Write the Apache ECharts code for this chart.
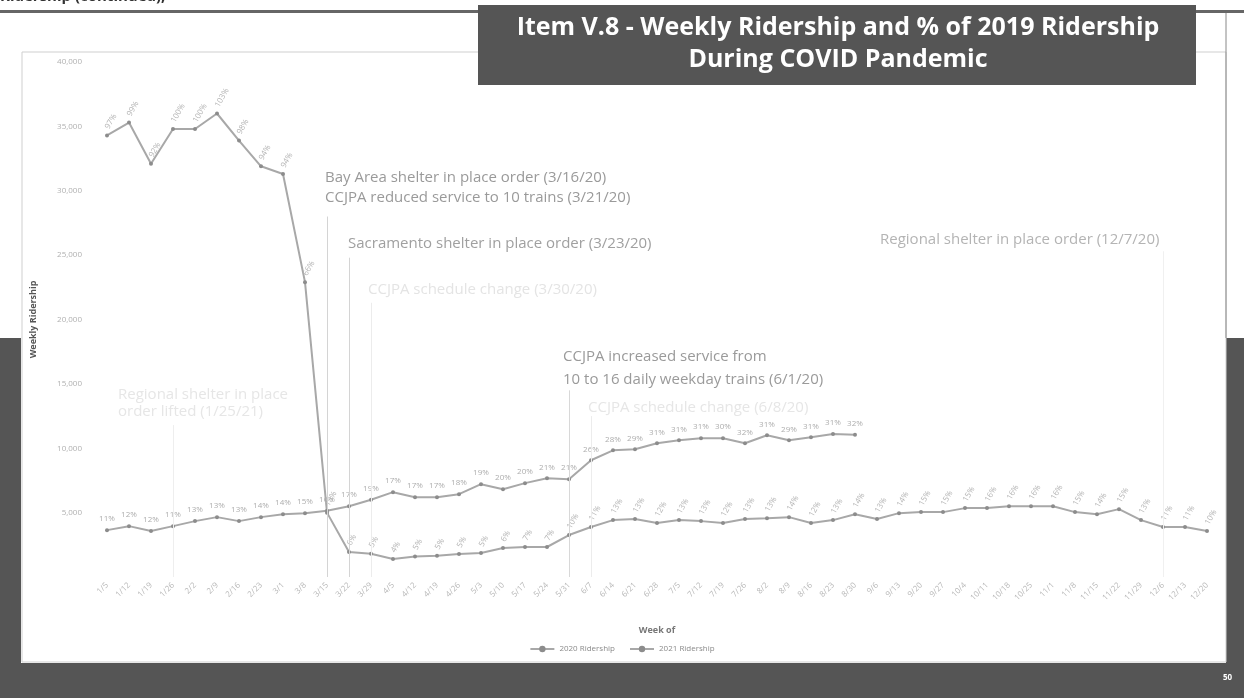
<!DOCTYPE html>
<html>
<head>
<meta charset="utf-8">
<script src="https://cdn.jsdelivr.net/npm/echarts@6/dist/echarts.min.js"></script>
<style>
html,body{margin:0;padding:0;background:#fff;}
#c{width:1244px;height:698px;}
</style>
</head>
<body>
<div id="c"></div>
<script>
// ---- data ----
const weeks = ['1/5','1/12','1/19','1/26','2/2','2/9','2/16','2/23','3/1','3/8','3/15','3/22','3/29','4/5','4/12','4/19','4/26','5/3','5/10','5/17','5/24','5/31','6/7','6/14','6/21','6/28','7/5','7/12','7/19','7/26','8/2','8/9','8/16','8/23','8/30','9/6','9/13','9/20','9/27','10/4','10/11','10/18','10/25','11/1','11/8','11/15','11/22','11/29','12/6','12/13','12/20'];
const ridership2020 = [34300,35300,32100,34800,34800,36000,33900,31900,31300,22900,5000,1950,1800,1400,1600,1650,1780,1860,2250,2330,2330,3260,3880,4420,4500,4190,4420,4340,4190,4500,4570,4650,4190,4420,4880,4500,4960,5040,5040,5350,5350,5500,5500,5500,5040,4880,5270,4420,3880,3880,3570];
const pct2020 = ['97%','99%','92%','100%','100%','103%','98%','94%','94%','66%','15%','6%','5%','4%','5%','5%','5%','5%','6%','7%','7%','10%','11%','13%','13%','12%','13%','13%','12%','13%','13%','14%','12%','13%','14%','13%','14%','15%','15%','15%','16%','16%','16%','16%','15%','14%','15%','13%','11%','11%','10%'];
const ridership2021 = [3640,3950,3570,3950,4340,4650,4340,4650,4880,4960,5150,5500,6000,6590,6200,6200,6430,7210,6820,7290,7670,7600,9070,9840,9920,10390,10620,10780,10780,10390,11010,10620,10850,11100,11050];
const pct2021 = ['11%','12%','12%','11%','13%','13%','13%','14%','14%','15%','16%','17%','19%','17%','17%','17%','18%','19%','20%','20%','21%','21%','26%','28%','29%','31%','31%','31%','30%','32%','31%','29%','31%','31%','32%'];
const yTicks = {min:0, max:40000, interval:5000};
// event lines: week and the value where each line starts (below its note)
const eventWeeks = ['3/15','3/22','3/29','5/31','6/7','12/6','1/26'];
const eventTops  = [28000,24800,21300,14500,12500,25300,11800];

const lineColors = ['#d4d4d4','#d4d4d4','#ececec','#d8d8d8','#ececec','#f0f0f0','#eeeeee'];
const F = '"Open Sans", "Liberation Sans", sans-serif';

const chart = echarts.init(document.getElementById('c'), null, {renderer:'canvas'});

const markData = eventWeeks.map((w,i)=>[
  {coord:[w, eventTops[i]], lineStyle:{color:lineColors[i], width:1, type:'solid'}},
  {coord:[w, 0]}
]);

function txt(x,y,s,color,size){
  return {type:'text', x:x, y:y, z:50, silent:true,
    style:{text:s, fill:color, font:(size||15)+'px '+F, textVerticalAlign:'middle', verticalAlign:'middle'}};
}

const graphics = [
  // background slide pieces
  {type:'rect', z:-20, silent:true, shape:{x:0,y:338,width:21,height:360}, style:{fill:'#555'}},
  {type:'rect', z:-20, silent:true, shape:{x:1226,y:338,width:18,height:360}, style:{fill:'#555'}},
  {type:'rect', z:-20, silent:true, shape:{x:0,y:663,width:1244,height:35}, style:{fill:'#555'}},
  {type:'rect', z:-19, silent:true, shape:{x:0,y:10,width:1244,height:3}, style:{fill:'#666'}},
  {type:'rect', z:-18, silent:true, shape:{x:22,y:52,width:1204,height:610}, style:{fill:'none', stroke:'#cfcfcf', lineWidth:1}},
  {type:'line', z:-18, silent:true, shape:{x1:1226,y1:13,x2:1226,y2:338}, style:{stroke:'#888', lineWidth:1}},
  // top cut-off heading
  {type:'text', x:0, y:-11, z:50, silent:true, style:{text:'Ridership (continued),', fill:'#333', font:'bold 15px '+F}},
  // title box
  {type:'rect', z:60, silent:true, shape:{x:478,y:5,width:718,height:80}, style:{fill:'#555'}},
  {type:'text', z:61, silent:true, x:838, y:28, style:{text:'Item V.8 - Weekly Ridership and % of 2019 Ridership', fill:'#fff', font:'bold 25px '+F, textAlign:'center', align:'center', textVerticalAlign:'middle', verticalAlign:'middle'}},
  {type:'text', z:61, silent:true, x:838, y:60, style:{text:'During COVID Pandemic', fill:'#fff', font:'bold 25px '+F, textAlign:'center', align:'center', textVerticalAlign:'middle', verticalAlign:'middle'}},
  // page number
  {type:'text', z:61, silent:true, x:1223, y:674, style:{text:'50', fill:'#fff', font:'bold 8px '+F}},
  // annotations
  txt(325,178,'Bay Area shelter in place order (3/16/20)','#9a9a9a'),
  txt(325,198,'CCJPA reduced service to 10 trains (3/21/20)','#9a9a9a'),
  txt(348,244,'Sacramento shelter in place order (3/23/20)','#a0a0a0'),
  txt(368,290,'CCJPA schedule change (3/30/20)','#e4e4e4'),
  txt(563,357,'CCJPA increased service from','#9a9a9a'),
  txt(563,380,'10 to 16 daily weekday trains (6/1/20)','#9a9a9a'),
  txt(588,408,'CCJPA schedule change (6/8/20)','#e6e6e6'),
  txt(880,240,'Regional shelter in place order (12/7/20)','#b4b4b4'),
  txt(118,395,'Regional shelter in place','#e6e6e6'),
  txt(118,412,'order lifted (1/25/21)','#e6e6e6')
];

chart.setOption({
  backgroundColor:'#ffffff',
  animation:false,
  textStyle:{fontFamily:F},
  grid:{left:96, right:26, top:62, bottom:121, containLabel:false},
  legend:{
    bottom:40, left:'center', itemWidth:24, itemHeight:8, itemGap:14,
    textStyle:{color:'#8a8a8a', fontSize:8, fontFamily:F},
    data:['2020 Ridership','2021 Ridership']
  },
  xAxis:{
    type:'category', data:weeks, boundaryGap:true,
    name:'Week of', nameLocation:'middle', nameGap:49,
    nameTextStyle:{color:'#777', fontSize:9, fontWeight:'bold', fontFamily:F},
    axisLine:{show:false}, axisTick:{show:false},
    axisLabel:{interval:0, rotate:45, color:'#b8b8b8', fontSize:8, margin:7, fontFamily:F},
    splitLine:{show:false}
  },
  yAxis:{
    type:'value', min:yTicks.min, max:yTicks.max, interval:yTicks.interval,
    name:'Weekly Ridership', nameLocation:'middle', nameGap:58, nameRotate:90,
    nameTextStyle:{color:'#555', fontSize:9, fontWeight:'bold', fontFamily:F},
    axisLine:{show:false}, axisTick:{show:false}, splitLine:{show:false},
    axisLabel:{color:'#b0b0b0', fontSize:8, margin:14, fontFamily:F,
      formatter:v=> v===0 ? '' : v.toLocaleString('en-US')}
  },
  series:[
    {
      name:'2020 Ridership', type:'line', data:ridership2020,
      symbol:'circle', symbolSize:4,
      itemStyle:{color:'#8c8c8c'},
      lineStyle:{color:'#a8a8a8', width:2},
      label:{show:true, position:'top', distance:5, rotate:60, align:'left', verticalAlign:'middle',
        color:'#b4b4b4', fontSize:8, fontFamily:F,
        formatter:p=>pct2020[p.dataIndex]},
      markLine:{silent:true, symbol:['none','none'], label:{show:false}, data:markData, animation:false},
      z:3
    },
    {
      name:'2021 Ridership', type:'line', data:ridership2021,
      symbol:'circle', symbolSize:4,
      itemStyle:{color:'#8c8c8c'},
      lineStyle:{color:'#a8a8a8', width:2},
      label:{show:true, position:'top', distance:5, color:'#adadad', fontSize:8, fontFamily:F,
        formatter:p=>pct2021[p.dataIndex]},
      z:3
    }
  ],
  graphic:graphics
});
</script>
</body>
</html>
